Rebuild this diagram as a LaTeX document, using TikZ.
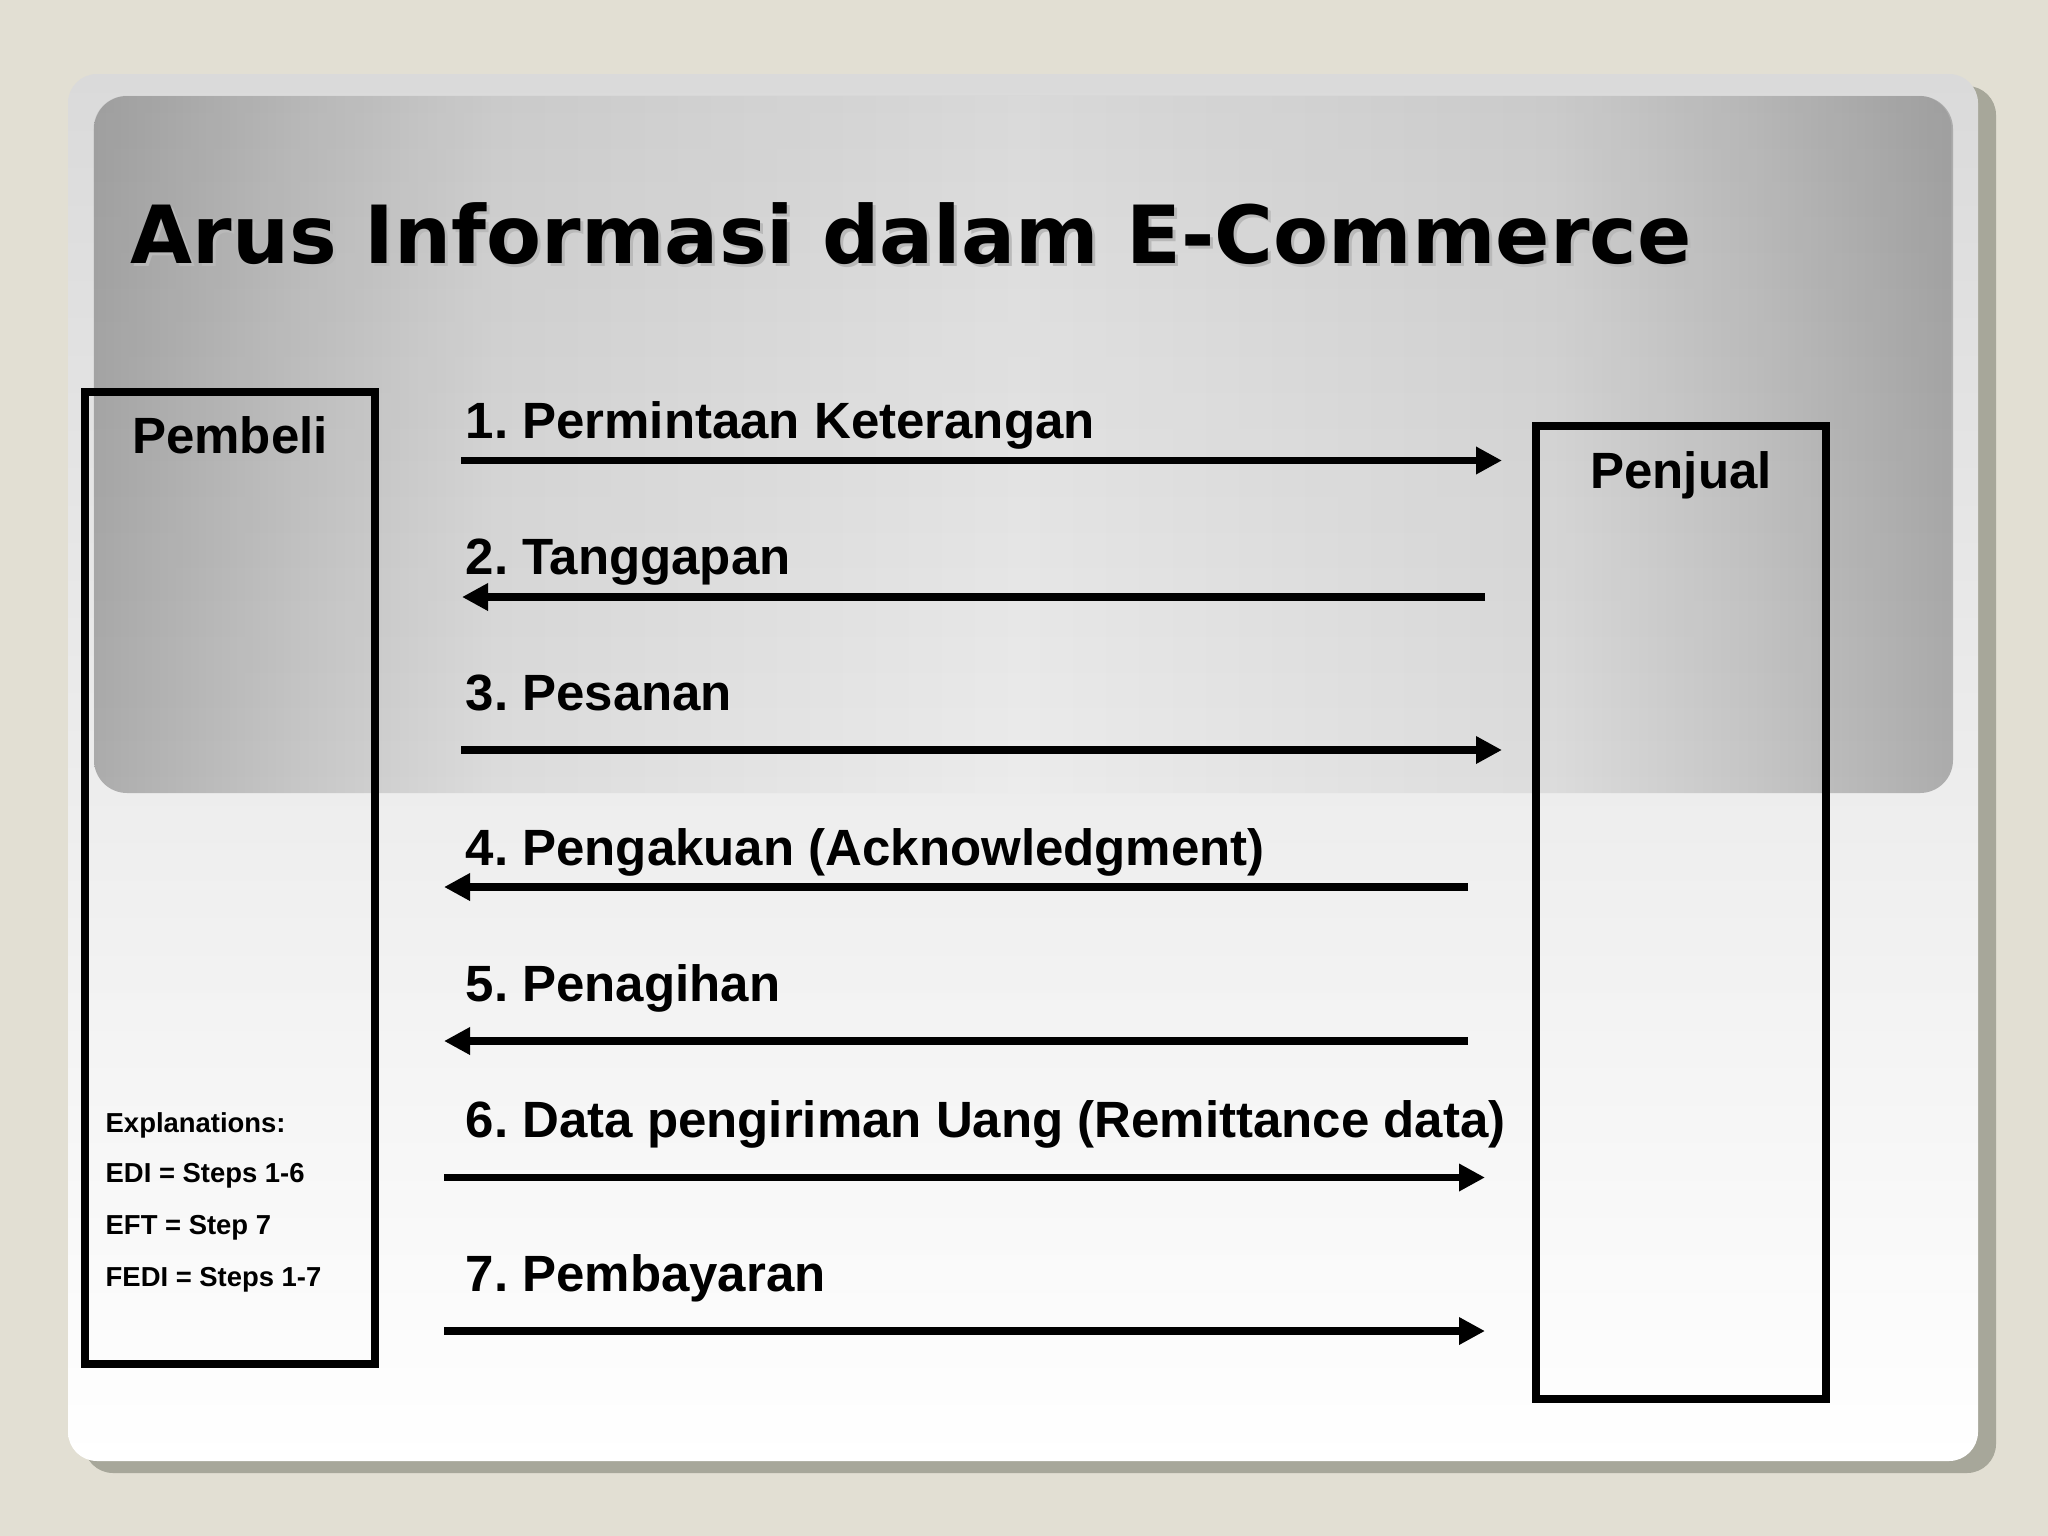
\documentclass[tikz,border=0pt]{standalone}
\usepackage{fontspec}
\setmainfont{Liberation Sans}
\newfontfamily\titlefont{DejaVu Sans}
\usetikzlibrary{arrows.meta,positioning,fadings}
\frenchspacing

\definecolor{slidebg}{RGB}{226,223,211}
\definecolor{shadowgray}{RGB}{167,167,154}
\definecolor{paneltop}{RGB}{218,218,218}
\definecolor{edgegray}{RGB}{172,172,172}
\definecolor{midgray}{RGB}{198,198,198}
\definecolor{palegray}{RGB}{220,220,220}
\definecolor{centergray}{RGB}{236,236,236}

\pgfdeclarehorizontalshading{headershade}{100bp}{color(0bp)=(edgegray); color(25bp)=(edgegray); color(30.4bp)=(midgray); color(35.8bp)=(palegray); color(50bp)=(centergray); color(64.2bp)=(palegray); color(69.6bp)=(midgray); color(75bp)=(edgegray); color(100bp)=(edgegray)}

\begin{document}
\begin{tikzpicture}[x=0.01cm,y=-0.01cm,
    flow/.style={line width=2.13pt,-{Triangle[length=0.26cm,width=0.26cm]}},
    steplabel/.style={anchor=base west,inner sep=0pt,font=\bfseries\fontsize{14.5pt}{17pt}\selectfont},
    actor/.style={draw,line width=2.2pt,minimum width=2.9cm,minimum height=9.72cm,inner sep=0pt},
    actorlabel/.style={anchor=base,inner sep=0pt,font=\bfseries\fontsize{14.5pt}{17pt}\selectfont},
    notelabel/.style={anchor=base west,inner sep=0pt,font=\bfseries\fontsize{7.8pt}{9pt}\selectfont},
    titletext/.style={anchor=base west,inner sep=0pt,font=\titlefont\bfseries\fontsize{22.8pt}{27pt}\selectfont}]

        % Slide background and panel
        \fill[slidebg] (0,0) rectangle (2048,1536);
        \useasboundingbox (0,0) rectangle (2048,1536);
        \fill[shadowgray,rounded corners=0.29cm] (84,86) rectangle (1996,1473);
        \shade[top color=paneltop,bottom color=white,rounded corners=0.29cm] (68,74) rectangle (1978,1461);

        % Header band
        \shade[shading=headershade,rounded corners=0.33cm] (94,96) rectangle (1953,793);
        \fill[black,fill opacity=0.08,path fading=south,rounded corners=0.33cm] (94,96) rectangle (1953,793);

        % Title
        \node[titletext,text=gray!55] (titleShadow) at (133,266) {Arus Informasi dalam E-Commerce};
        \node[titletext] (title) at (130,263) {Arus Informasi dalam E-Commerce};

        % Buyer and seller boxes
        \node[actor] (pembeli) at (230.25,878) {};
        \node[actor] (penjual) at (1681,912.5) {};
        \node[actorlabel] (pembeliText) at (230,453) {Pembeli};
        \node[actorlabel] (penjualText) at (1681,488) {Penjual};

        % Explanations
        \node[notelabel] (noteHead) at (105,1132) {Explanations:};
        \node[notelabel] (noteEdi) at (105,1182) {EDI = Steps 1-6};
        \node[notelabel] (noteEft) at (105,1234) {EFT = Step 7};
        \node[notelabel] (noteFedi) at (105,1286) {FEDI = Steps 1-7};

        % Step labels
        \node[steplabel] (step1) at (465,438) {1. Permintaan Keterangan};
        \node[steplabel] (step2) at (465,574) {2. Tanggapan};
        \node[steplabel] (step3) at (465,710) {3. Pesanan};
        \node[steplabel] (step4) at (465,865) {4. Pengakuan (Acknowledgment)};
        \node[steplabel] (step5) at (465,1001) {5. Penagihan};
        \node[steplabel] (step6) at (465,1137) {6. Data pengiriman Uang (Remittance data)};
        \node[steplabel] (step7) at (465,1291) {7. Pembayaran};

        % Arrow end points
        \coordinate (in1) at (461,460.5);
        \coordinate (out1) at (1502,460.5);
        \coordinate (in2) at (1485,597);
        \coordinate (out2) at (462,597);
        \coordinate (in3) at (461,750);
        \coordinate (out3) at (1502,750);
        \coordinate (in4) at (1468,887);
        \coordinate (out4) at (444,887);
        \coordinate (in5) at (1468,1041);
        \coordinate (out5) at (444,1041);
        \coordinate (in6) at (444,1177.5);
        \coordinate (out6) at (1485,1177.5);
        \coordinate (in7) at (444,1331);
        \coordinate (out7) at (1485,1331);

        % Arrows
        \draw[flow] (in1) -- (out1);
        \draw[flow] (in2) -- (out2);
        \draw[flow] (in3) -- (out3);
        \draw[flow] (in4) -- (out4);
        \draw[flow] (in5) -- (out5);
        \draw[flow] (in6) -- (out6);
        \draw[flow] (in7) -- (out7);
    \end{tikzpicture}
\end{document}
